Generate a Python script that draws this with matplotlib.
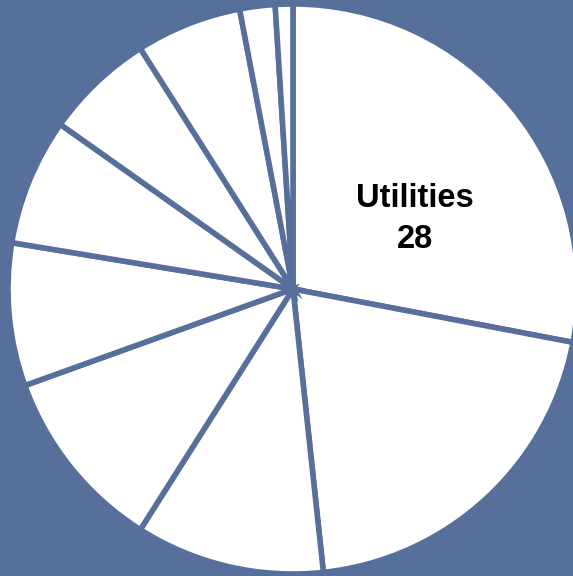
import matplotlib
matplotlib.use('Agg')
import matplotlib.pyplot as plt

# slice values, clockwise from 12 o'clock
labels = ['Utilities', '', '', '', '', '', '', '', '', '']
values = [28, 20.3, 10.7, 10.5, 8.1, 7.2, 6.2, 6.0, 2.0, 1.0]

bg = '#566F9B'

fig = plt.figure(figsize=(5.73, 5.76), dpi=100)
fig.patch.set_facecolor(bg)
ax = fig.add_axes([0, 0, 1, 1])
ax.set_facecolor(bg)

wedges, _ = ax.pie(values, radius=285, startangle=90, counterclock=False,
                   colors=['white'] * len(values),
                   wedgeprops=dict(edgecolor=bg, linewidth=4.0))

# only the first slice is labelled
ax.text(122, 70, labels[0] + '\n' + str(values[0]), ha='center', va='center',
        fontsize=23.5, fontweight='bold', family='Liberation Sans',
        linespacing=1.4, color='black')

ax.set_xlim(-293, 280)
ax.set_ylim(-287, 289)
ax.set_aspect('equal')
ax.axis('off')

fig.savefig('out.png', dpi=100, facecolor=bg)
